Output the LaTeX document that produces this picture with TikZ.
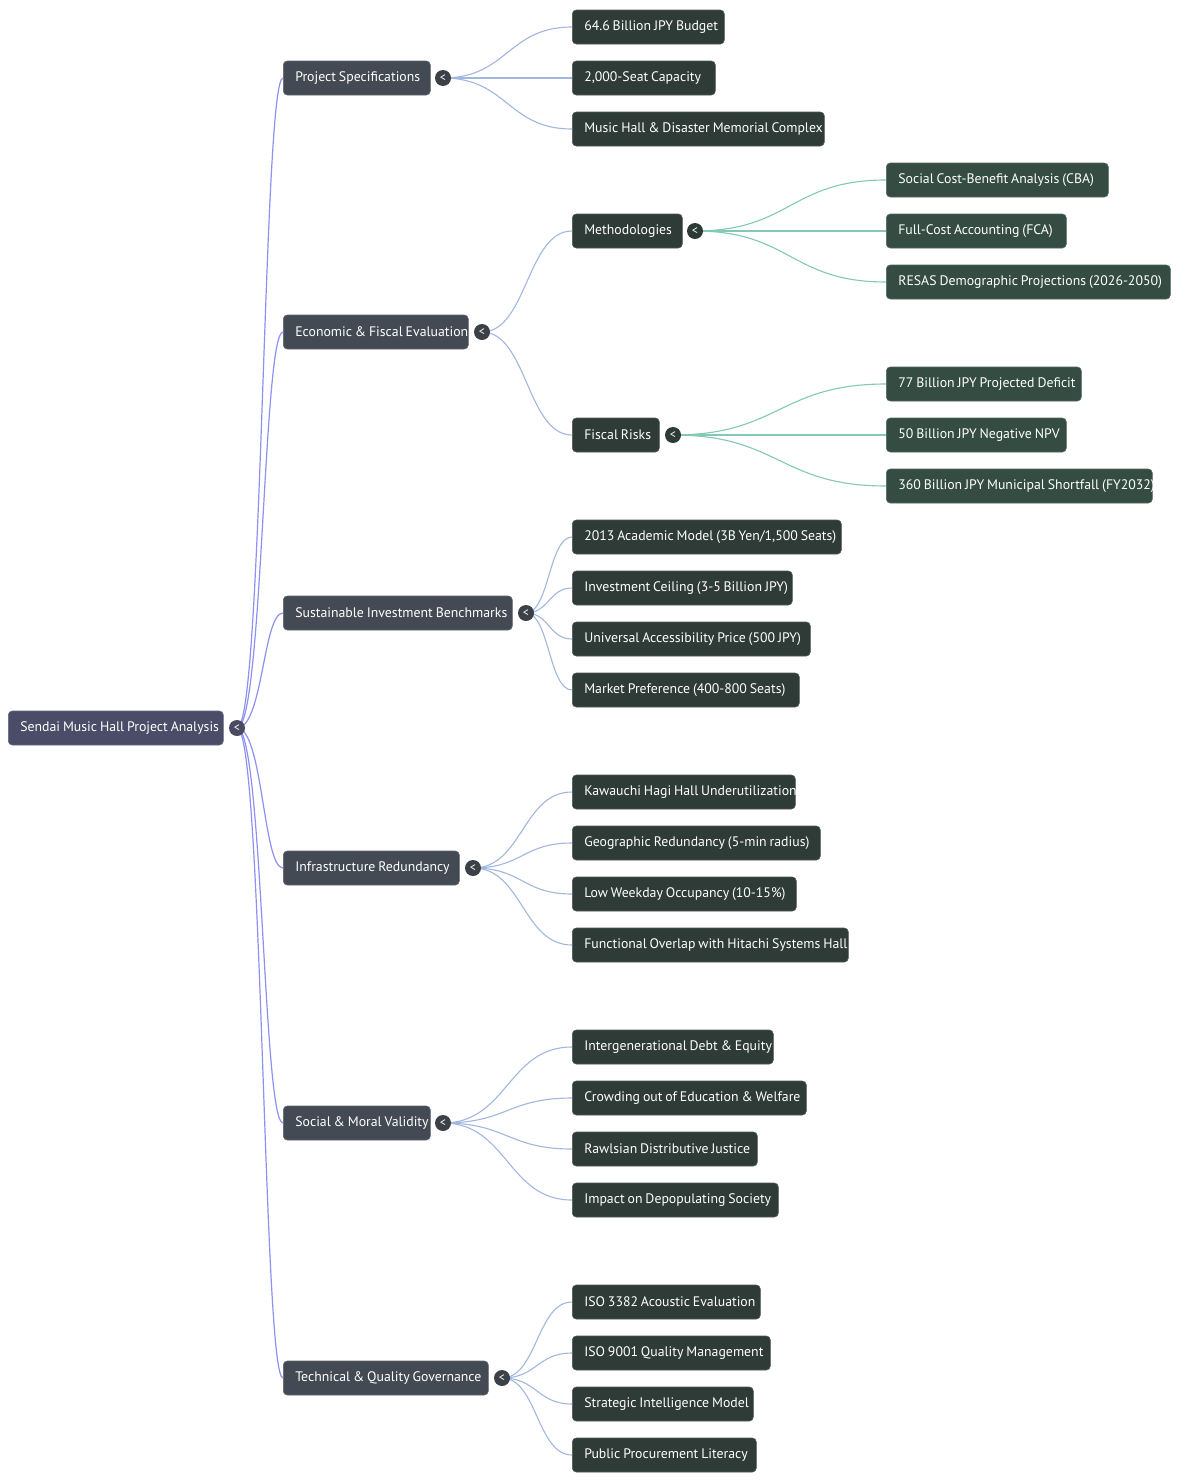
\documentclass[tikz,border=0pt]{standalone}
\usepackage{fontspec}
\setmainfont{PT Sans}
\definecolor{rootfill}{HTML}{4B4C67}
\definecolor{lonefill}{HTML}{444A53}
\definecolor{leaffill}{HTML}{2F3B37}
\definecolor{greenfill}{HTML}{344C41}
\definecolor{rootedgec}{HTML}{8E90F2}
\definecolor{blueedgec}{HTML}{A2B7DF}
\definecolor{greenedgec}{HTML}{82CAB6}
\definecolor{circroot}{HTML}{4A4B63}
\definecolor{circone}{HTML}{3C4047}
\definecolor{circtwo}{HTML}{2E3A36}
\begin{document}
\begin{tikzpicture}[x=1pt,y=-1pt,
  every node/.style={font=\fontsize{13.8}{16}\selectfont, text=white},
  box/.style={rounded corners=4pt, minimum height=34pt, inner xsep=12pt, inner ysep=0pt,
    anchor=west, line width=0.6pt, text width=#1, align=left,
    execute at begin node={\spaceskip=0.21em plus 0.05em\relax\leavevmode\hbox\bgroup}, execute at end node={\egroup}},
  rootbox/.style={box=#1, fill=rootfill, draw=rootfill!85!white},
  onebox/.style={box=#1, fill=lonefill, draw=lonefill!85!white},
  leafbox/.style={box=#1, fill=leaffill, draw=leaffill!85!white},
  greenbox/.style={box=#1, fill=greenfill, draw=greenfill!85!white},
  collapse/.style={circle, minimum size=16pt, inner sep=0pt, font=\fontsize{12}{12}\selectfont, text=white},
  rootedge/.style={draw=rootedgec, line width=1.2pt},
  blueedge/.style={draw=blueedgec, line width=1.1pt},
  greenedge/.style={draw=greenedgec, line width=1.1pt},
]
\useasboundingbox[fill=white] (0,0) rectangle (1200,1483);

% root
\node[rootbox=191pt] (root) at (8,728) {Sendai Music Hall Project Analysis};
\coordinate (c0) at (237,728);

% level 1
\node[onebox=123pt] (ps) at (283,78) {Project Specifications};
\node[onebox=161pt] (ef) at (283,332) {Economic \& Fiscal Evaluation};
\node[onebox=205pt] (sb) at (283,613) {Sustainable Investment Benchmarks};
\node[onebox=152pt] (ir) at (283,868) {Infrastructure Redundancy};
\node[onebox=123pt] (sm) at (283,1123) {Social \& Moral Validity};
\node[onebox=181pt] (tq) at (283,1378) {Technical \& Quality Governance};
\coordinate (cps) at (443,78);
\coordinate (cef) at (482,332);
\coordinate (csb) at (526,613);
\coordinate (cir) at (473,868);
\coordinate (csm) at (443,1123);
\coordinate (ctq) at (502,1378);

% project specs leaves
\node[leafbox=128pt] (ps1) at (572,27) {64.6 Billion JPY Budget};
\node[leafbox=119pt] (ps2) at (572,78) {2,000-Seat Capacity};
\node[leafbox=228pt] (ps3) at (572,129) {Music Hall \& Disaster Memorial Complex};

% economic
\node[leafbox=86pt] (me) at (572,231) {Methodologies};
\node[leafbox=63pt] (fr) at (572,435) {Fiscal Risks};
\coordinate (cme) at (695,231);
\coordinate (cfr) at (673,435);
\node[greenbox=198pt] (me1) at (886,180) {Social Cost-Benefit Analysis (CBA)};
\node[greenbox=156pt] (me2) at (886,231) {Full-Cost Accounting (FCA)};
\node[greenbox=260pt] (me3) at (886,282) {RESAS Demographic Projections (2026-2050)};
\node[greenbox=171pt] (fr1) at (886,384) {77 Billion JPY Projected Deficit};
\node[greenbox=156pt] (fr2) at (886,435) {50 Billion JPY Negative NPV};
\node[greenbox=242pt] (fr3) at (886,486) {360 Billion JPY Municipal Shortfall (FY2032)};

% sustainable
\node[leafbox=245pt] (sb1) at (572,537) {2013 Academic Model (3B Yen/1,500 Seats)};
\node[leafbox=196pt] (sb2) at (572,588) {Investment Ceiling (3-5 Billion JPY)};
\node[leafbox=214pt] (sb3) at (572,639) {Universal Accessibility Price (500 JPY)};
\node[leafbox=203pt] (sb4) at (572,690) {Market Preference (400-800 Seats)};

% infrastructure
\node[leafbox=199pt] (ir1) at (572,792) {Kawauchi Hagi Hall Underutilization};
\node[leafbox=224pt] (ir2) at (572,843) {Geographic Redundancy (5-min radius)};
\node[leafbox=200pt] (ir3) at (572,894) {Low Weekday Occupancy (10-15\%)};
\node[leafbox=252pt] (ir4) at (572,945) {Functional Overlap with Hitachi Systems Hall};

% social
\node[leafbox=177pt] (sm1) at (572,1047) {Intergenerational Debt \& Equity};
\node[leafbox=210pt] (sm2) at (572,1098) {Crowding out of Education \& Welfare};
\node[leafbox=161pt] (sm3) at (572,1149) {Rawlsian Distributive Justice};
\node[leafbox=182pt] (sm4) at (572,1200) {Impact on Depopulating Society};

% technical
\node[leafbox=164pt] (tq1) at (572,1302) {ISO 3382 Acoustic Evaluation};
\node[leafbox=174pt] (tq2) at (572,1353) {ISO 9001 Quality Management};
\node[leafbox=157pt] (tq3) at (572,1404) {Strategic Intelligence Model};
\node[leafbox=160pt] (tq4) at (572,1455) {Public Procurement Literacy};

% edges from root
\foreach \t in {ps,ef,sb,ir,sm,tq}
  \draw[rootedge] (c0) .. controls +(26,0) and +(-20,0) .. (\t.west);

% edges level 1 -> leaves
\foreach \s/\d/\lst in {cps/64.5/{ps1,ps2,ps3}, cef/45/{me,fr}, csb/23/{sb1,sb2,sb3,sb4},
    cir/49.5/{ir1,ir2,ir3,ir4}, csm/64.5/{sm1,sm2,sm3,sm4}, ctq/35/{tq1,tq2,tq3,tq4}}
  \foreach \t in \lst
    \draw[blueedge] (\s) .. controls +(\d,0) and +(-\d,0) .. (\t.west);

\foreach \s/\d/\lst in {cme/95.5/{me1,me2,me3}, cfr/106.5/{fr1,fr2,fr3}}
  \foreach \t in \lst
    \draw[greenedge] (\s) .. controls +(\d,0) and +(-\d,0) .. (\t.west);

% collapse markers
\node[collapse, fill=circroot] (k0) at (c0) {<};
\foreach \c in {cps,cef,csb,cir,csm,ctq}
  \node[collapse, fill=circone] (k\c) at (\c) {<};
\node[collapse, fill=circtwo] (kcme) at (cme) {<};
\node[collapse, fill=circtwo] (kcfr) at (cfr) {<};
\end{tikzpicture}
\end{document}
